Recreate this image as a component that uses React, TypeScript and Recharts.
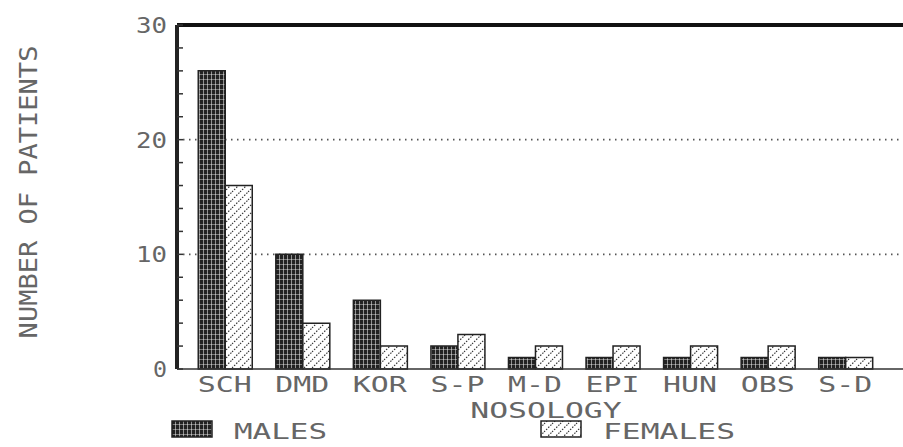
import React from "react";
import {
  BarChart,
  Bar,
  XAxis,
  YAxis,
  CartesianGrid,
  ReferenceLine,
} from "recharts";

const categories = ["SCH", "DMD", "KOR", "S-P", "M-D", "EPI", "HUN", "OBS", "S-D"];
const males = [26, 10, 6, 2, 1, 1, 1, 1, 1];
const females = [16, 4, 2, 3, 2, 2, 2, 2, 1];
const yTicks = [0, 2, 4, 6, 8, 10, 12, 14, 16, 18, 20, 22, 24, 26, 28, 30];
const gridValues = [10, 20];

const series = [
  { key: "males", name: "MALES", fill: "url(#maleFill)", swatchX: 172 },
  { key: "females", name: "FEMALES", fill: "url(#femaleFill)", swatchX: 541 },
];

const data = categories.map((c, i) => ({ name: c, males: males[i], females: females[i] }));

const FONT = "'DejaVu Sans Mono', monospace";
const INK = "#666";

// dot-matrix style text: fixed pitch, glyphs stretched to fill it
const DotText = ({ x, y, text, anchor = "start", pitch = 19.5, glyph = 15, size = 22, transform }: any) => (
  <text
    x={x}
    y={y}
    textAnchor={anchor}
    fontFamily={FONT}
    fontSize={size}
    fill={INK}
    textLength={(text.length - 1) * pitch + glyph}
    lengthAdjust="spacingAndGlyphs"
    transform={transform}
  >
    {text}
  </text>
);

const CategoryTick = ({ x, y, payload }: any) => (
  <DotText x={x} y={y + 23} text={String(payload.value)} anchor="middle" />
);

const ValueTick = ({ x, y, payload }: any) =>
  payload.value % 10 === 0 ? (
    <DotText x={x} y={y + 8} text={String(payload.value)} anchor="end" pitch={17} glyph={14} />
  ) : null;

export default function App() {
  return (
    <div style={{ position: "absolute", left: 0, top: 0, width: 903, height: 447, background: "#fff" }}>
      <BarChart
        width={903}
        height={447}
        data={data}
        margin={{ top: 25, right: 0, bottom: 0, left: 0 }}
        barCategoryGap="15.8%"
        barGap={0}
      >
        <defs>
          <pattern id="maleFill" patternUnits="userSpaceOnUse" width="4" height="5">
            <rect width="4" height="5" fill="#222" />
            <rect x="3" width="1" height="5" fill="#fff" opacity="0.5" />
            <rect y="4" width="4" height="1" fill="#fff" opacity="0.4" />
          </pattern>
          <pattern id="femaleFill" patternUnits="userSpaceOnUse" width="8" height="8">
            <rect width="8" height="8" fill="#fff" />
            <path
              d="M-2,2 L2,-2 M0,8 L8,0 M6,10 L10,6"
              stroke="#333"
              strokeWidth="1.2"
              strokeDasharray="1.5 1.5"
            />
          </pattern>
        </defs>
        <CartesianGrid
          vertical={false}
          horizontalValues={gridValues}
          stroke="#555"
          strokeWidth={1.8}
          strokeDasharray="1.5 4.5"
        />
        <XAxis
          dataKey="name"
          height={78}
          padding={{ left: 9, right: 19 }}
          tickLine={false}
          tickSize={0}
          tickMargin={0}
          axisLine={{ stroke: "#333", strokeWidth: 1.5 }}
          tick={<CategoryTick />}
          interval={0}
          label={{
            content: ({ viewBox }: any) => (
              <DotText x={viewBox.x + viewBox.width / 2 + 6} y={viewBox.y + 49} text="NOSOLOGY" anchor="middle" />
            ),
          }}
        />
        <YAxis
          type="number"
          domain={[0, 30]}
          ticks={yTicks}
          interval={0}
          width={177}
          tickSize={-6}
          tickMargin={16}
          tickLine={{ stroke: "#333", strokeWidth: 1.5 }}
          axisLine={{ stroke: "#222", strokeWidth: 4 }}
          tick={<ValueTick />}
          label={{
            content: () => (
              <DotText
                x={37}
                y={192}
                text="NUMBER OF PATIENTS"
                anchor="middle"
                pitch={16.4}
                glyph={14}
                size={24}
                transform="rotate(-90, 37, 192)"
              />
            ),
          }}
        />
        <ReferenceLine y={30} stroke="#111" strokeWidth={4} />
        {series.map((s) => (
          <Bar
            key={s.key}
            dataKey={s.key}
            name={s.name}
            fill={s.fill}
            stroke="#222"
            strokeWidth={1.5}
            isAnimationActive={false}
          />
        ))}
        <g>
          {series.map((s) => (
            <g key={s.key}>
              <rect x={s.swatchX} y={421} width={40} height={16} fill={s.fill} stroke="#222" strokeWidth={1.5} />
              <DotText x={s.swatchX + 62} y={439} text={s.name} />
            </g>
          ))}
        </g>
      </BarChart>
    </div>
  );
}
